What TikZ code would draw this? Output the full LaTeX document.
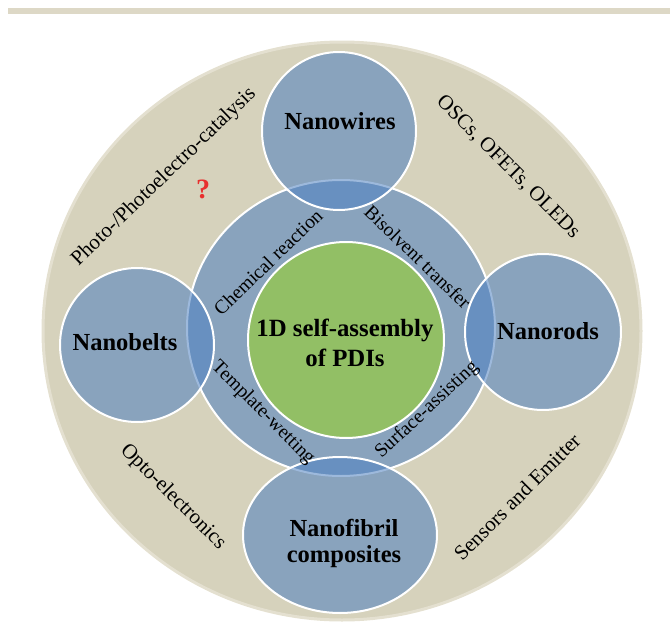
\documentclass[tikz,border=0pt]{standalone}
\usepackage{fontspec}
\setmainfont{Liberation Serif}
\definecolor{sand}{HTML}{D6D2BC}
\definecolor{sandedge}{HTML}{E4E0D0}
\definecolor{rule}{HTML}{DDD8C6}
\definecolor{steel}{HTML}{89A3BD}
\definecolor{deepsteel}{HTML}{6890C0}
\definecolor{paleline}{HTML}{9DB9DC}
\definecolor{leaf}{HTML}{92BF65}
\definecolor{mark}{HTML}{E8302E}
\tikzset{
  lbl/.style={inner sep=0pt, align=center},
  satlabel/.style={lbl, font=\fontsize{24.5}{26}\selectfont\bfseries},
  corelabel/.style={lbl, font=\fontsize{24.8}{30}\selectfont\bfseries},
  routelabel/.style={lbl, font=\fontsize{19.5}{21}\selectfont},
  uselabel/.style={lbl, font=\fontsize{21}{23}\selectfont},
  rim/.style={draw=white, line width=2pt}
}
\begin{document}
\begin{tikzpicture}[x=1pt, y=-1pt]
\useasboundingbox (0,0) rectangle (670,629);
% header rule
\fill[rule] (8,8) rectangle (670,14);
% outer application disc
\fill[sand, draw=sandedge, line width=3pt] (342,331) ellipse [x radius=299pt, y radius=289pt];
% method ring
\fill[steel] (341,328) ellipse [x radius=154pt, y radius=148pt];
\draw[rim] (341,328) ellipse [x radius=154pt, y radius=148pt];
% morphology discs
\def\satellites{
  (339,131) ellipse [x radius=77pt, y radius=79pt]
  (137,345) ellipse [x radius=77pt, y radius=77pt]
  (543,332) ellipse [x radius=78pt, y radius=78pt]
  (340,535) ellipse [x radius=97pt, y radius=78pt]
}
\fill[steel] \satellites;
\begin{scope}
  \clip (341,328) ellipse [x radius=154pt, y radius=148pt];
  \fill[deepsteel] \satellites;
\end{scope}
\begin{scope}
  \clip \satellites;
  \draw[paleline, line width=2pt] (341,328) ellipse [x radius=154pt, y radius=148pt];
\end{scope}
\draw[rim] \satellites;
% core
\fill[leaf] (346,340) circle [radius=98pt];
\draw[rim] (346,340) circle [radius=98pt];
% labels
\node[corelabel] (core) at (345,343) {1D self-assembly\\of PDIs};
\node[satlabel] (wires) at (340,121) {Nanowires};
\node[satlabel] (belts) at (125,342) {Nanobelts};
\node[satlabel] (rods) at (548,331) {Nanorods};
\node[satlabel] (fibril) at (344,543) {Nanofibril\\composites};
\node[routelabel, rotate=44] (chem) at (268,262) {Chemical reaction};
\node[routelabel, rotate=-44] (bisol) at (418,257) {Bisolvent transfer};
\node[routelabel, rotate=-45] (templ) at (263,413) {Template-wetting};
\node[routelabel, rotate=43] (surf) at (427,410) {Surface-assisting};
\node[uselabel, rotate=44] (photo) at (164,177) {Photo-/Photoelectro-catalysis};
\node[uselabel, rotate=-45] (osc) at (508,167) {OSCs, OFETs, OLEDs};
\node[uselabel, rotate=-45] (opto) at (173,497) {Opto-electronics};
\node[uselabel, rotate=45] (sens) at (517,497) {Sensors and Emitter};
\node[lbl, text=mark, font=\fontsize{28}{30}\selectfont\bfseries] (query) at (203,189) {?};
\end{tikzpicture}
\end{document}
